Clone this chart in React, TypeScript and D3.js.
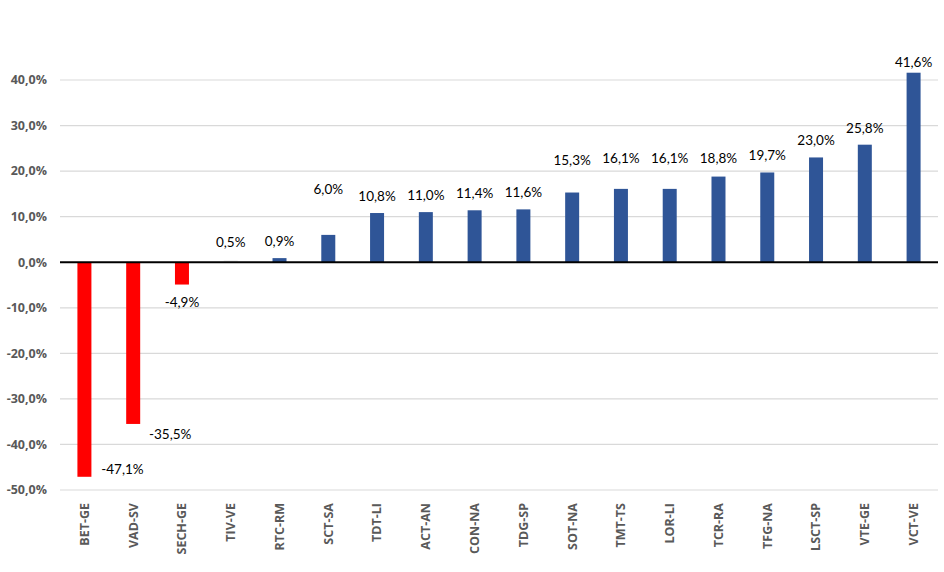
import { useEffect, useRef } from 'react'
import * as d3 from 'd3'

// ─── Data ────────────────────────────────────────────────────────────────────

const categories = [
  'BET-GE', 'VAD-SV', 'SECH-GE', 'TIV-VE', 'RTC-RM', 'SCT-SA', 'TDT-LI', 'ACT-AN', 'CON-NA',
  'TDG-SP', 'SOT-NA', 'TMT-TS', 'LOR-LI', 'TCR-RA', 'TFG-NA', 'LSCT-SP', 'VTE-GE', 'VCT-VE',
]
const values = [
  -47.1, -35.5, -4.9, 0.5, 0.9, 6.0, 10.8, 11.0, 11.4,
  11.6, 15.3, 16.1, 16.1, 18.8, 19.7, 23.0, 25.8, 41.6,
]
const yTicks = [-50, -40, -30, -20, -10, 0, 10, 20, 30, 40]

// label nudges (px) — the source chart has hand-placed labels
const labelDx = [38, 37, 0, 0, 0, 0, 0, 0, 0, 0, 0, 0, 0, 0, 0, 0, 0, 0]
const labelLift = [-8, 10, 18, 18, 17, 46, 17, 17, 17, 17, 32, 31, 31, 18, 17, 17, 16, 10]

// the TIV-VE bar is almost invisible in the source
const faded = new Set(['TIV-VE'])

const W = 944
const H = 572

const fmt = (v: number) => `${v.toFixed(1).replace('.', ',')}%`

export default function App() {
  const ref = useRef<SVGSVGElement>(null)

  useEffect(() => {
    if (!ref.current) return
    const svg = d3.select(ref.current)
    svg.selectAll('*').remove()

    const x = d3.scaleBand().domain(categories).range([60, 938]).paddingInner(0.713).paddingOuter(0.357)
    const y = d3.scaleLinear().domain([-50, 40]).range([490, 80])

    // grid
    svg.append('g')
      .selectAll('line')
      .data(yTicks.filter((t) => t !== 0))
      .join('line')
      .attr('x1', 60)
      .attr('x2', 938)
      .attr('y1', (d) => y(d))
      .attr('y2', (d) => y(d))
      .attr('stroke', '#d9d9d9')
      .attr('stroke-width', 1.2)

    // y labels
    svg.append('g')
      .selectAll('text')
      .data(yTicks)
      .join('text')
      .attr('x', 47)
      .attr('y', (d) => y(d))
      .attr('dy', '0.35em')
      .attr('text-anchor', 'end')
      .attr('font-family', '"Open Sans", sans-serif')
      .attr('font-weight', 700)
      .attr('font-size', 12.5)
      .attr('fill', '#595959')
      .text((d) => fmt(d))

    // bars
    const data = categories.map((c, i) => ({ c, v: values[i], i }))
    svg.append('g')
      .selectAll('rect')
      .data(data)
      .join('rect')
      .attr('x', (d) => x(d.c)!)
      .attr('width', x.bandwidth())
      .attr('y', (d) => y(Math.max(0, d.v)))
      .attr('height', (d) => Math.abs(y(d.v) - y(0)))
      .attr('fill', (d) => (faded.has(d.c) ? '#f4f4f4' : d.v < 0 ? '#ff0000' : '#2f5597'))

    // zero line
    svg.append('line')
      .attr('x1', 60)
      .attr('x2', 938)
      .attr('y1', y(0))
      .attr('y2', y(0))
      .attr('stroke', '#000')
      .attr('stroke-width', 2)

    // value labels
    svg.append('g')
      .selectAll('text')
      .data(data)
      .join('text')
      .attr('x', (d) => x(d.c)! + x.bandwidth() / 2 + labelDx[d.i])
      .attr('y', (d) => (d.v < 0 ? y(d.v) + labelLift[d.i] : y(d.v) - labelLift[d.i]))
      .attr('dy', '0.35em')
      .attr('text-anchor', 'middle')
      .attr('font-family', 'Lato, "Open Sans", sans-serif')
      .attr('font-size', 13.5)
      .attr('fill', '#000')
      .text((d) => fmt(d.v))

    // x labels
    svg.append('g')
      .selectAll('text')
      .data(categories)
      .join('text')
      .attr('transform', (d) => `translate(${x(d)! + x.bandwidth() / 2},503) rotate(-90)`)
      .attr('dy', '0.35em')
      .attr('text-anchor', 'end')
      .attr('font-family', '"Open Sans", sans-serif')
      .attr('font-weight', 700)
      .attr('font-size', 12.5)
      .attr('fill', '#595959')
      .text((d) => d)
  }, [])

  return (
    <svg
      ref={ref}
      width={W}
      height={H}
      viewBox={`0 0 ${W} ${H}`}
      style={{ display: 'block', position: 'absolute', left: 0, top: 0, background: '#fff' }}
    />
  )
}
